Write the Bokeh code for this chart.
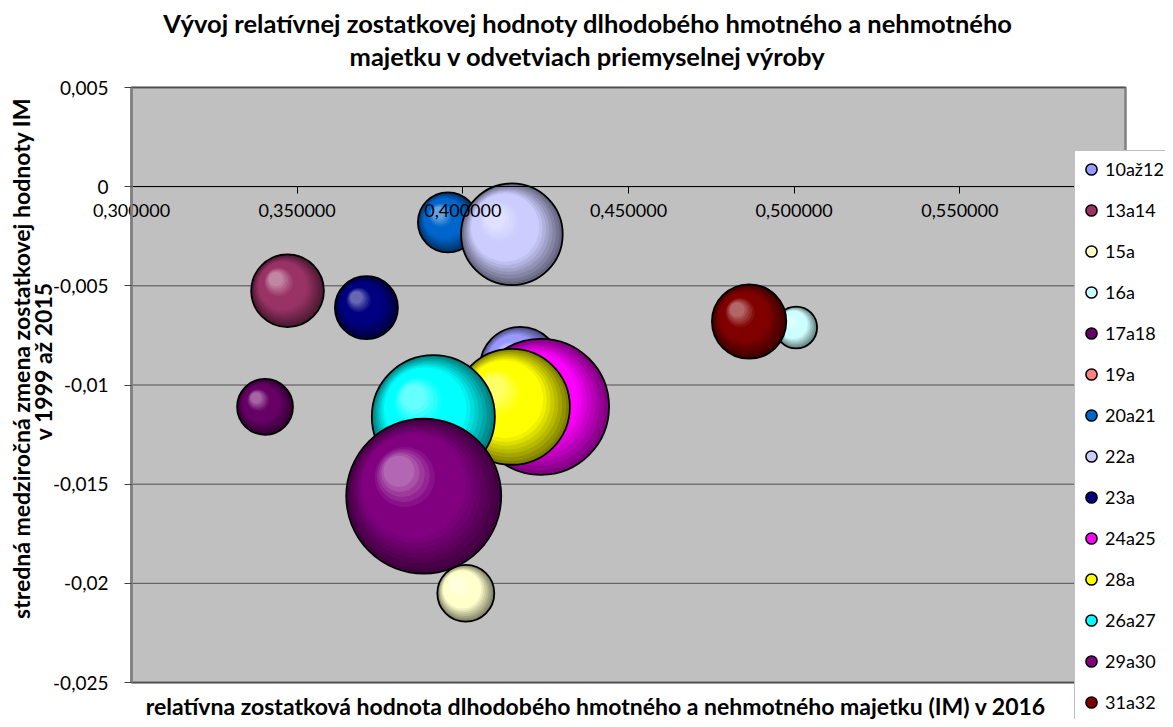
import math
from bokeh.plotting import figure
from bokeh.models import (Range1d, LinearAxis, FixedTicker, CustomJSTickFormatter,
                          Label, Legend, LegendItem, ColumnDataSource)
from bokeh.embed import file_html
from bokeh.resources import INLINE

# ---------------- data ----------------
series = ["10až12", "13a14", "15a", "16a", "17a18", "19a", "20a21", "22a",
          "23a", "24a25", "28a", "26a27", "29a30", "31a32"]
x_vals = [0.4173, 0.3471, 0.4009, 0.5006, 0.3403, 0.3897, 0.3955, 0.4148,
          0.3709, 0.4236, 0.4148, 0.3911, 0.3882, 0.4864]
y_vals = [-0.0091, -0.00525, -0.0205, -0.0071, -0.0111, -0.0156, -0.0018, -0.0024,
          -0.0061, -0.0111, -0.0111, -0.0116, -0.0156, -0.0068]
bubble_sizes = [27, 22, 13.5, 7.3, 13, 15, 15, 43, 16.5, 77, 56, 63, 100, 23]
colors = ["#9999FF", "#993366", "#FFFFCC", "#CCFFFF", "#660066", "#FF8080", "#0066CC",
          "#CCCCFF", "#000080", "#FF00FF", "#FFFF00", "#00FFFF", "#800080", "#800000"]
x_ticks = [0.30, 0.35, 0.40, 0.45, 0.50, 0.55, 0.60]
y_ticks = [-0.025, -0.02, -0.015, -0.01, -0.005, 0.0, 0.005]

title_lines = ["Vývoj relatívnej zostatkovej hodnoty dlhodobého hmotného a nehmotného",
               "majetku v odvetviach priemyselnej výroby"]
x_label = "relatívna zostatková hodnota dlhodobého hmotného a nehmotného majetku (IM) v 2016"
y_label_lines = ["stredná medziročná zmena zostatkovej hodnoty IM", "v  1999 až 2015"]

# ---------------- geometry (pixels) ----------------
W, H = 1165, 719            # whole figure = drawing frame
PL, PT, PW, PH = 131, 87, 994, 595   # plot area inside the frame
X0, X1 = 0.30, 0.60
Y0, Y1 = -0.025, 0.005
xpp = (X1 - X0) / PW
ypp = (Y1 - Y0) / PH
xr = Range1d(X0 - PL * xpp, X1 + (W - PL - PW) * xpp)
yr = Range1d(Y0 - (H - PT - PH) * ypp, Y1 + PT * ypp)
FONT = "Lato"

p = figure(width=W, height=H, x_range=xr, y_range=yr,
           x_axis_location=None, y_axis_location=None,
           output_backend="svg", toolbar_location=None,
           min_border=0, background_fill_color="white", border_fill_color="white",
           outline_line_color=None)
for g in p.grid:
    g.visible = False

# plot area
area = p.quad(left=[X0], right=[X1], bottom=[Y0], top=[Y1],
              fill_color="#C0C0C0", line_color="#808080", line_width=2.5)
area.level = "image"

# horizontal grid lines, limited to the plot area
gl = p.segment(x0=[X0] * len(y_ticks), x1=[X1] * len(y_ticks), y0=y_ticks, y1=y_ticks,
               line_color="#505050", line_width=1)
gl.level = "underlay"

# y axis on the left edge of the plot area
yax = LinearAxis(fixed_location=X0, bounds=(Y0, Y1),
                 ticker=FixedTicker(ticks=y_ticks),
                 formatter=CustomJSTickFormatter(code="""
var v = Math.round(tick*1e6)/1e6;
if (v === 0) return "0";
return v.toString().replace(".", ",");
"""))
yax.axis_line_color = "#808080"
yax.axis_line_width = 2.5
yax.major_tick_out = 7
yax.major_tick_in = 0
yax.major_tick_line_color = "#404040"
yax.minor_tick_line_color = None
yax.major_label_standoff = 16
yax.major_label_text_font = FONT
yax.major_label_text_font_size = "19px"
yax.major_label_text_color = "black"
p.add_layout(yax, "left")

# x axis crossing at y = 0
xaxis = LinearAxis(fixed_location=0, bounds=(X0, X1),
                   ticker=FixedTicker(ticks=x_ticks),
                   formatter=CustomJSTickFormatter(code='return tick.toFixed(6).replace(".", ",");'))
xaxis.axis_line_color = "black"
xaxis.axis_line_width = 1
xaxis.major_tick_out = 7
xaxis.major_tick_in = 0
xaxis.major_tick_line_color = "black"
xaxis.minor_tick_line_color = None
xaxis.major_label_standoff = 10
xaxis.major_label_text_font = FONT
xaxis.major_label_text_font_size = "18px"
xaxis.major_label_text_color = "black"
p.add_layout(xaxis, "below")

# ---------------- bubbles (shaded spheres) ----------------
DMAX = 155.0
smax = max(bubble_sizes)


def hex2rgb(h):
    h = h.lstrip("#")
    return [int(h[i:i + 2], 16) for i in (0, 2, 4)]


def shade(c, t):
    r, g, b = c
    if t < 0.4:
        k = 0.5 + 0.5 * (t / 0.4)
        out = [v * k for v in (r, g, b)]
    elif t < 0.72:
        out = [r, g, b]
    else:
        s = (t - 0.72) / 0.28 * 0.4
        out = [v + (255 - v) * s for v in (r, g, b)]
    return "#%02x%02x%02x" % tuple(int(max(0, min(255, round(v)))) for v in out)


legend_items = []
for i, name in enumerate(series):
    r = p.scatter(x=[x_vals[i]], y=[y_vals[i]], size=0, marker="circle",
                  fill_color=colors[i], line_color="black", line_width=1.5)
    legend_items.append(LegendItem(label=name, renderers=[r]))

N = 18
for i, name in enumerate(series):
    d = DMAX * math.sqrt(bubble_sizes[i] / smax)
    c = hex2rgb(colors[i])
    xs, ys, ss, fc, fa, la, lw = [], [], [], [], [], [], []
    for k in range(N):
        t = k / (N - 1)
        f = 1 - 0.8 * t
        off = 0.16 * t * d
        xs.append(x_vals[i] - off * xpp)
        ys.append(y_vals[i] + off * ypp)
        ss.append(f * d)
        fc.append(shade(c, t))
        fa.append(1.0)
        la.append(0.0)
        lw.append(0.0)
    xs.append(x_vals[i]); ys.append(y_vals[i]); ss.append(d)
    fc.append(colors[i]); fa.append(0.0); la.append(1.0); lw.append(1.8)
    src = ColumnDataSource(dict(x=xs, y=ys, size=ss, fc=fc, fa=fa, la=la, lw=lw))
    p.scatter(x="x", y="y", size="size", marker="circle", source=src,
              fill_color="fc", fill_alpha="fa", line_color="black", line_alpha="la",
              line_width="lw")

# ---------------- legend ----------------
legend = Legend(items=legend_items, location=(1074, -2),
                glyph_width=28, glyph_height=32, padding=2, spacing=9,
                label_standoff=0, label_text_font=FONT, label_text_font_size="18px",
                label_text_color="black",
                border_line_color="#808080", border_line_width=1,
                background_fill_color="white", background_fill_alpha=1.0, margin=0)
p.add_layout(legend, "center")

# ---------------- texts ----------------
for txt, yy in zip(title_lines, [H - 22, H - 55]):
    p.add_layout(Label(x=587.5, y=yy, x_units="screen", y_units="screen", text=txt,
                       text_align="center", text_baseline="middle", text_font=FONT,
                       text_font_style="bold", text_font_size="25.5px", text_color="black"))

p.add_layout(Label(x=595.5, y=H - 705, x_units="screen", y_units="screen", text=x_label,
                   text_align="center", text_baseline="middle", text_font=FONT,
                   text_font_style="bold", text_font_size="23px", text_color="black"))

for txt, xx in zip(y_label_lines, [20, 42]):
    p.add_layout(Label(x=xx, y=H - 358, x_units="screen", y_units="screen", text=txt,
                       angle=math.pi / 2, text_align="center", text_baseline="middle",
                       text_font=FONT, text_font_style="bold", text_font_size="23px",
                       text_color="black"))

open("out.html", "w").write(file_html(p, INLINE))
